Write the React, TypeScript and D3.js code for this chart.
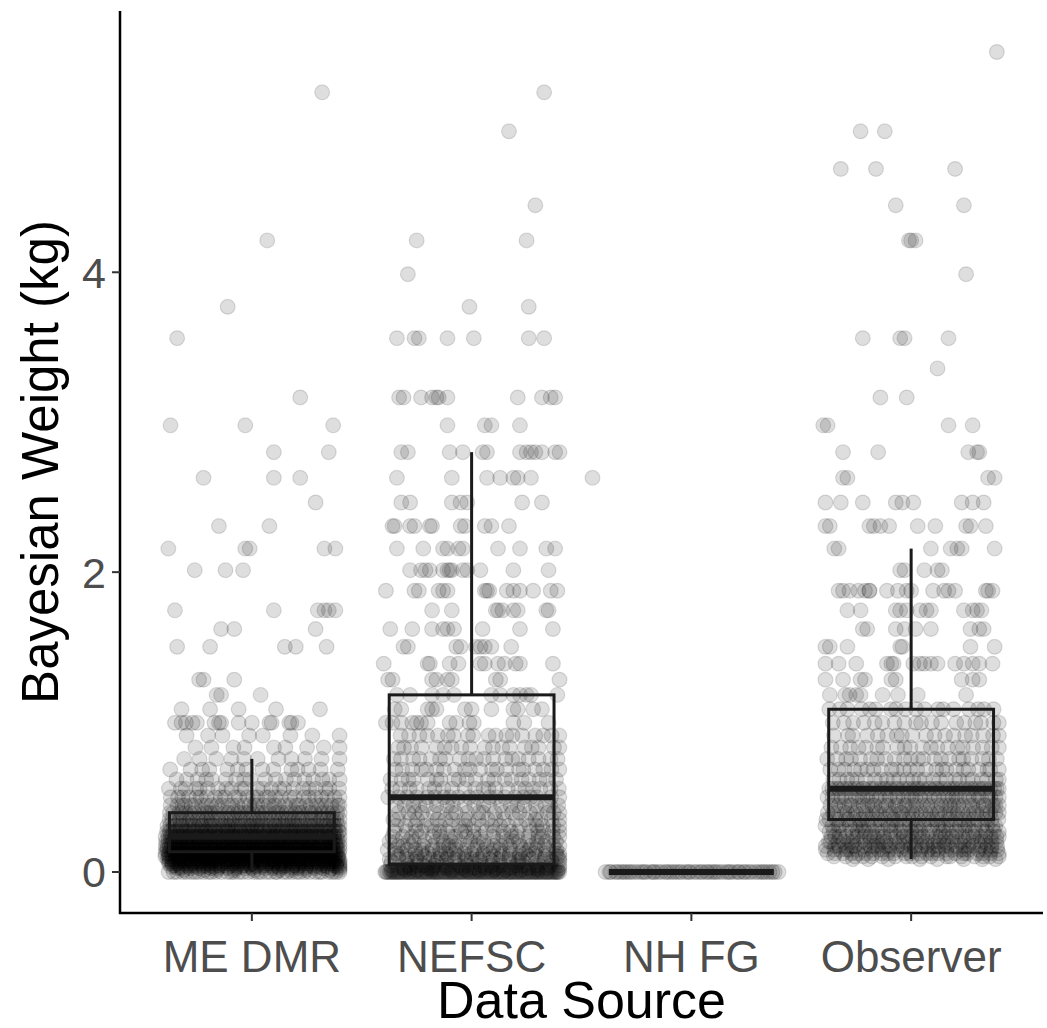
import React from "react";
import * as d3 from "d3";

// ---------- data ----------
const categories = ["ME DMR", "NEFSC", "NH FG", "Observer"];
const yTicks = [0, 2, 4];

// sparse points read individually: [weight, jitter offsets (category units)]
const meDmrSparse: [number, number[]][] = [
  [5.2002, [0.32]],
  [4.2126, [0.07]],
  [3.7696, [-0.11]],
  [3.5602, [-0.34]],
  [3.165, [0.22]],
  [2.9789, [-0.37, -0.03, 0.37]],
  [2.8002, [0.1, 0.35]],
  [2.6288, [-0.22, 0.1, 0.22]],
  [2.4645, [0.29]],
  [2.3073, [-0.15, 0.08]],
  [2.1569, [-0.38, -0.03, -0.01, 0.33, 0.38]],
  [2.0131, [-0.26, -0.12, -0.04]],
  [1.7451, [-0.35, 0.1, 0.3, 0.33, 0.35, 0.38]],
  [1.6205, [-0.14, -0.08, 0.29]],
  [1.502, [-0.34, -0.19, 0.15, 0.2, 0.34]],
  [1.2825, [-0.24, -0.22, -0.08]],
  [1.1813, [-0.16, -0.14, 0.04]],
  [1.0856, [-0.32, -0.19, -0.06, 0.11, 0.31]],
  [0.9952, [-0.35, -0.32, -0.3, -0.27, -0.25, -0.17, -0.15, -0.14, -0.06, 0.0, 0.08, 0.09, 0.17, 0.18, 0.21]],
];
const nefscSparse: [number, number[]][] = [
  [5.2002, [0.33]],
  [4.9403, [0.17]],
  [4.4466, [0.29]],
  [4.2126, [-0.25, 0.25]],
  [3.987, [-0.29]],
  [3.7696, [-0.01, 0.26]],
  [3.5602, [-0.34, -0.26, -0.24, -0.11, 0.01, 0.26, 0.33]],
  [3.165, [-0.33, -0.31, -0.23, -0.18, -0.16, -0.15, -0.11, 0.21, 0.32, 0.36, 0.38]],
  [2.9789, [-0.11, 0.06, 0.09, 0.22]],
  [2.8002, [-0.32, -0.29, -0.1, -0.04, 0.05, 0.07, 0.22, 0.25, 0.27, 0.29, 0.32, 0.38, 0.4]],
  [2.6288, [-0.34, -0.09, 0.07, 0.13, 0.19, 0.21, 0.27]],
  [2.4645, [-0.32, -0.28, -0.09, -0.05, -0.02, 0.23, 0.32]],
  [2.3073, [-0.36, -0.35, -0.28, -0.26, -0.19, -0.18, -0.05, -0.03, 0.06, 0.09, 0.17]],
  [2.1569, [-0.34, -0.22, -0.13, -0.11, -0.06, -0.04, 0.12, 0.22, 0.34, 0.38]],
  [2.0131, [-0.28, -0.23, -0.21, -0.19, -0.13, -0.11, -0.1, -0.09, -0.04, -0.02, 0.04, 0.19, 0.35]],
  [1.8759, [-0.39, -0.26, -0.24, -0.15, -0.13, -0.11, 0.06, 0.07, 0.08, 0.16, 0.19, 0.22, 0.28, 0.36, 0.39]],
  [1.7451, [-0.18, -0.09, 0.11, 0.12, 0.14, 0.19, 0.21, 0.34, 0.35]],
  [1.6205, [-0.37, -0.27, -0.18, -0.13, -0.11, -0.08, 0.05, 0.22, 0.37]],
  [1.502, [-0.31, -0.29, -0.07, -0.05, 0.02, 0.04, 0.06, 0.09, 0.18]],
  [1.3894, [-0.4, -0.2, -0.19, -0.1, -0.06, 0.04, 0.06, 0.12, 0.15, 0.2, 0.22, 0.37]],
  [1.2825, [-0.38, -0.36, -0.18, -0.16, -0.11, -0.09, 0.11, 0.13, 0.4]],
  [1.1813, [-0.34, -0.28, -0.18, -0.13, -0.08, 0.09, 0.13, 0.19, 0.22, 0.25, 0.27, 0.39]],
  [1.0856, [-0.35, -0.32, -0.2, -0.18, -0.16, -0.03, 0.0, 0.09, 0.19, 0.21, 0.28, 0.32]],
  [0.9952, [-0.39, -0.36, -0.32, -0.27, -0.25, -0.23, -0.2, -0.1, -0.07, -0.01, 0.01, 0.19, 0.24, 0.35]],
];
const nhfgSparse: [number, number[]][] = [[2.6288, [-0.45]]];
const observerSparse: [number, number[]][] = [
  [5.4691, [0.39]],
  [4.9403, [-0.23, -0.12]],
  [4.6891, [-0.32, -0.16, 0.2]],
  [4.4466, [-0.07, 0.24]],
  [4.2126, [-0.01, 0.0, 0.02]],
  [3.987, [0.25]],
  [3.5602, [-0.22, -0.05, -0.03, 0.17]],
  [3.3587, [0.12]],
  [3.165, [-0.14, -0.02]],
  [2.9789, [-0.4, -0.38, 0.17, 0.28]],
  [2.8002, [-0.31, -0.15, 0.26, 0.3, 0.31]],
  [2.6288, [-0.31, -0.29, 0.35, 0.38]],
  [2.4645, [-0.39, -0.32, -0.22, -0.07, -0.04, 0.01, 0.23, 0.28, 0.33]],
  [2.3073, [-0.39, -0.37, -0.19, -0.17, -0.14, -0.1, 0.03, 0.11, 0.25, 0.27, 0.34]],
  [2.1569, [-0.35, -0.33, 0.09, 0.18, 0.21, 0.23, 0.38]],
  [2.0131, [-0.05, -0.03, 0.06, 0.12, 0.14]],
  [1.8759, [-0.33, -0.31, -0.28, -0.24, -0.21, -0.19, -0.19, -0.11, -0.06, -0.02, 0.0, 0.1, 0.15, 0.17, 0.2, 0.34, 0.35, 0.37]],
  [1.7451, [-0.29, -0.23, -0.07, -0.05, -0.02, 0.04, 0.07, 0.09, 0.24, 0.28, 0.3, 0.32]],
  [1.6205, [-0.22, -0.2, -0.07, -0.03, 0.02, 0.09, 0.27, 0.31, 0.33]],
  [1.502, [-0.39, -0.37, -0.29, -0.05, -0.04, 0.27, 0.38]],
  [1.3894, [-0.39, -0.33, -0.25, -0.11, -0.09, -0.08, 0.01, 0.04, 0.06, 0.09, 0.12, 0.2, 0.24, 0.28, 0.31, 0.37]],
  [1.2825, [-0.39, -0.31, -0.23, -0.21, -0.09, -0.07, 0.23, 0.28, 0.31]],
  [1.1813, [-0.37, -0.3, -0.28, -0.25, -0.23, -0.13, -0.06, 0.03, 0.25]],
];

// dense levels: [weight, number of fish]
const meDmrDense: [number, number][] = [
  [0, 40], [0.013, 10], [0.0253, 20], [0.0337, 25], [0.0438, 35], [0.0556, 45], [0.0695, 55],
  [0.0855, 65], [0.1037, 75], [0.1244, 80], [0.1477, 85], [0.1737, 85], [0.2026, 85],
  [0.2345, 80], [0.2696, 75], [0.3081, 60], [0.35, 50], [0.3956, 42], [0.445, 34],
  [0.4984, 28], [0.5558, 23], [0.6175, 18], [0.6836, 14], [0.7543, 11], [0.8297, 9], [0.9099, 8],
];
const nefscDense: [number, number][] = [
  [0, 130], [0.013, 12], [0.0253, 14], [0.0438, 16], [0.0695, 20], [0.0855, 20], [0.1037, 20],
  [0.1244, 20], [0.1477, 20], [0.1737, 20], [0.2026, 20], [0.2345, 20], [0.2696, 20],
  [0.3081, 20], [0.35, 20], [0.3956, 20], [0.445, 20], [0.4984, 20], [0.5558, 20],
  [0.6175, 20], [0.6836, 20], [0.7543, 19], [0.8297, 18], [0.9099, 18],
];
const nhfgDense: [number, number][] = [[0, 60]];
const observerDense: [number, number][] = [
  [0.0855, 8], [0.1037, 18], [0.1244, 24], [0.1477, 28], [0.1737, 30], [0.2026, 32],
  [0.2345, 32], [0.2696, 32], [0.3081, 32], [0.35, 38], [0.3956, 38], [0.445, 38],
  [0.4984, 40], [0.5558, 48], [0.6175, 26], [0.6836, 24], [0.7543, 22], [0.8297, 20],
  [0.9099, 18], [0.9952, 18], [1.0856, 18],
];

// box summaries
const boxQ1 = [0.135, 0.053, 0, 0.35];
const boxMedian = [0.235, 0.4984, 0, 0.5558];
const boxQ3 = [0.3956, 1.1813, 0, 1.0856];
const whiskerLow = [0, 0, 0, 0.0855];
const whiskerHigh = [0.7543, 2.8002, 0, 2.1569];

const sparseByGroup = [meDmrSparse, nefscSparse, nhfgSparse, observerSparse];
const denseByGroup = [meDmrDense, nefscDense, nhfgDense, observerDense];

const FONT = "'Liberation Sans', Arial, Helvetica, sans-serif";

type Pt = { g: number; j: number; v: number };

// deterministic scatter used only to place points inside their jitter slot (layout only)
function hash01(k: number, g: number): number {
  const s = Math.sin(k * 12.9898 + g * 78.233) * 43758.5453;
  return s - Math.floor(s);
}

function buildPoints(): Pt[] {
  const pts: Pt[] = [];
  denseByGroup.forEach((levels, g) => {
    let k = 0;
    levels.forEach(([v, n], li) => {
      const shift = hash01(li + 500, g);
      for (let i = 0; i < n; i++) {
        k++;
        // stratified: each point gets its own slot across the jitter width, placed loosely inside it
        const slot = (i + shift * n) % n;
        const u = (slot + 0.15 + 0.7 * hash01(k, g)) / n;
        pts.push({ g, j: (Math.min(u, 0.999) - 0.5) * 0.8, v });
      }
    });
  });
  sparseByGroup.forEach((rows, g) => {
    rows.forEach(([v, js]) => js.forEach((j) => pts.push({ g, j, v })));
  });
  return pts;
}

export default function App() {
  const W = 1047;
  const H = 1028;
  const left = 120, right = 1043, top = 11, bottom = 913;

  const points = buildPoints();
  const x = d3.scalePoint<string>().domain(categories).range([left, right]).padding(0.6);
  const step = x.step();
  const yMax = d3.max(points, (p) => p.v) as number;
  const yMin = 0;
  const pad = (yMax - yMin) * 0.05;
  const y = d3.scaleLinear().domain([yMin - pad, yMax + pad]).range([bottom, top]);

  const boxHalf = step * 0.375;

  return (
    <div style={{ position: "absolute", left: 0, top: 0 }}>
      <svg width={W} height={H} style={{ display: "block", background: "#fff" }}>
        {/* points */}
        <g>
          {points.map((p, i) => (
            <circle
              key={i}
              cx={(x(categories[p.g]) as number) + p.j * step}
              cy={y(p.v)}
              r={7.4}
              fill="#000"
              fillOpacity={0.13}
              stroke="#000"
              strokeOpacity={0.13}
              strokeWidth={1.2}
            />
          ))}
        </g>
        {/* boxes */}
        <g stroke="#1a1a1a" fill="none">
          {categories.map((c, i) => {
            const cx = x(c) as number;
            return (
              <g key={c}>
                <line x1={cx} x2={cx} y1={y(boxQ3[i])} y2={y(whiskerHigh[i])} strokeWidth={3} />
                <line x1={cx} x2={cx} y1={y(boxQ1[i])} y2={y(whiskerLow[i])} strokeWidth={3} />
                <rect
                  x={cx - boxHalf}
                  width={boxHalf * 2}
                  y={y(boxQ3[i])}
                  height={Math.max(0, y(boxQ1[i]) - y(boxQ3[i]))}
                  strokeWidth={3}
                />
                <line x1={cx - boxHalf} x2={cx + boxHalf} y1={y(boxMedian[i])} y2={y(boxMedian[i])} strokeWidth={6} />
              </g>
            );
          })}
        </g>
        {/* axes */}
        <line x1={left} x2={left} y1={top} y2={bottom + 1} stroke="#000" strokeWidth={2.5} />
        <line x1={left - 1} x2={right} y1={bottom} y2={bottom} stroke="#000" strokeWidth={2.5} />
        {yTicks.map((t) => (
          <g key={t}>
            <line x1={left - 8} x2={left} y1={y(t)} y2={y(t)} stroke="#333" strokeWidth={2} />
            <text
              x={left - 14}
              y={y(t)}
              dy="0.36em"
              textAnchor="end"
              fontFamily={FONT}
              fontSize={43}
              fill="#4D4D4D"
            >
              {t}
            </text>
          </g>
        ))}
        {categories.map((c) => (
          <g key={c}>
            <line x1={x(c)} x2={x(c)} y1={bottom} y2={bottom + 8} stroke="#333" strokeWidth={2} />
            <text
              x={x(c)}
              y={972}
              textAnchor="middle"
              fontFamily={FONT}
              fontSize={44}
              fill="#4D4D4D"
            >
              {c}
            </text>
          </g>
        ))}
        <text
          x={(left + right) / 2}
          y={1018}
          textAnchor="middle"
          fontFamily={FONT}
          fontSize={52}
          fill="#000"
        >
          Data Source
        </text>
        <text
          transform={`translate(58, ${(top + bottom) / 2}) rotate(-90)`}
          textAnchor="middle"
          fontFamily={FONT}
          fontSize={51}
          fill="#000"
        >
          Bayesian Weight (kg)
        </text>
      </svg>
    </div>
  );
}
